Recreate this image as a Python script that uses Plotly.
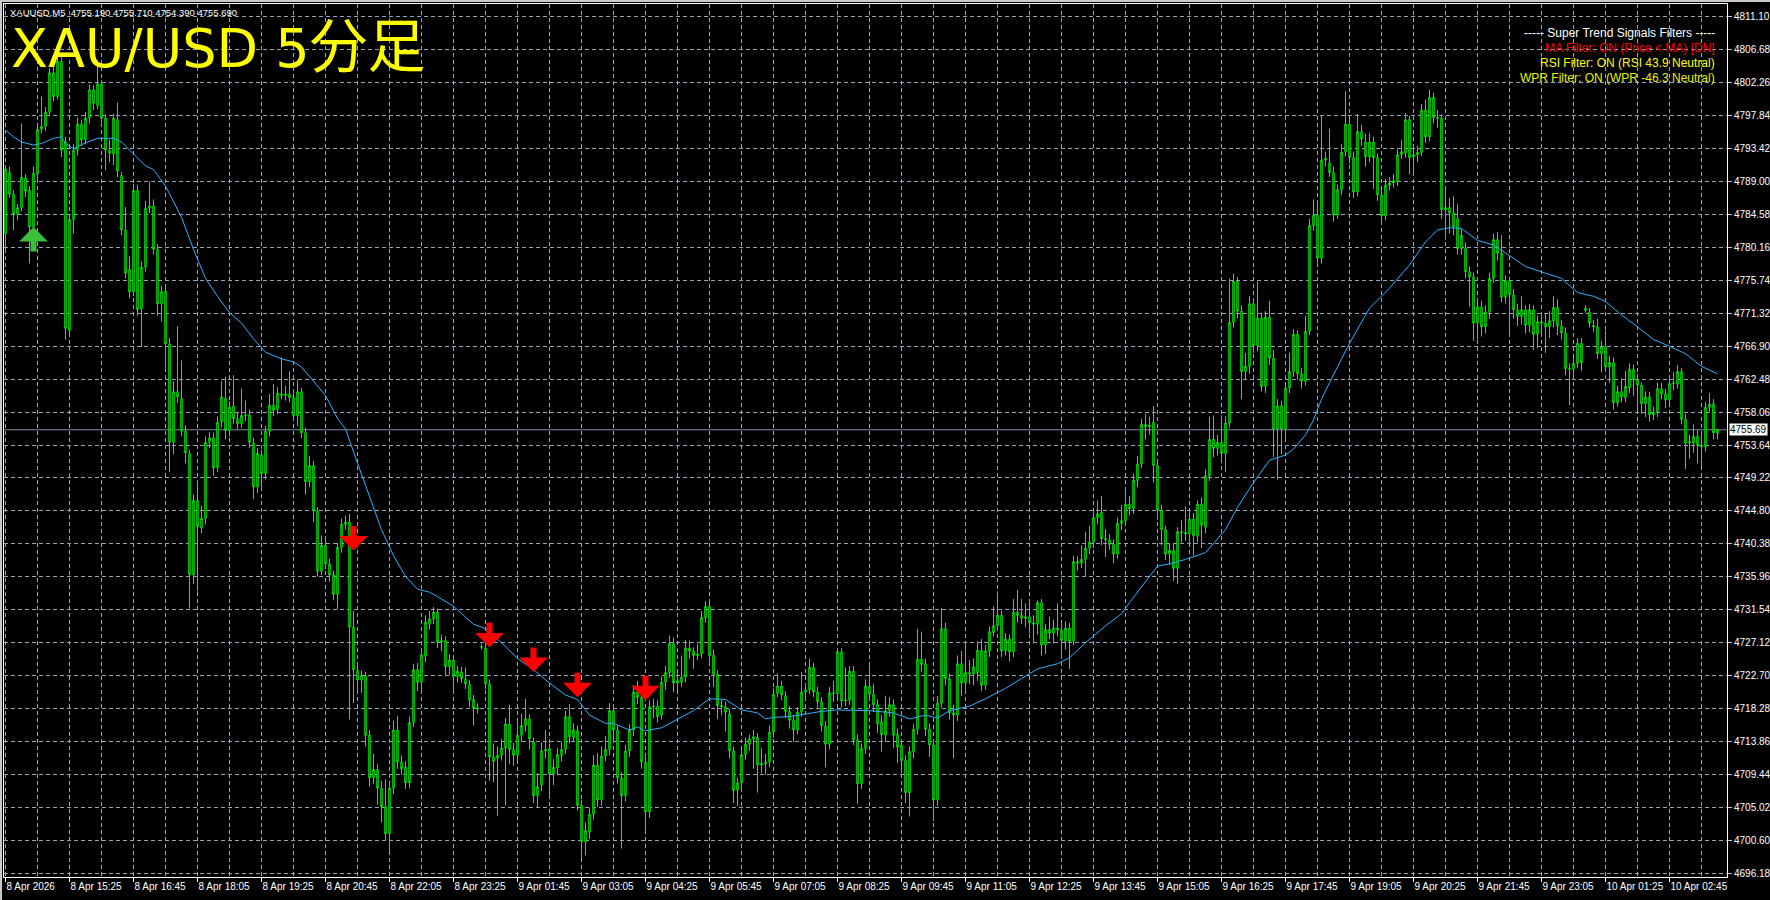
import plotly.graph_objects as go

# ---------------- data ----------------
opens = [
 4782.0,4790.2,4787.3,4784.6,4785.5,4789.5,4787.8,4782.9,4790.0,4796.0,
 4796.4,4798.3,4803.6,4800.4,4805.1,4794.3,4769.0,4783.9,4793.2,4796.7,
 4794.6,4797.5,4801.3,4799.2,4802.1,4797.5,4793.2,4792.7,4797.3,4789.8,
 4782.5,4777.2,4774.2,4787.8,4771.9,4777.5,4785.4,4785.7,4779.9,4772.6,
 4774.3,4767.2,4754.0,4760.8,4759.9,4755.5,4752.5,4736.2,4746.2,4742.5,
 4743.8,4754.0,4754.6,4750.6,4756.7,4759.9,4755.6,4758.9,4757.2,4756.5,
 4757.6,4757.7,4753.9,4748.0,4752.3,4749.8,4755.5,4759.0,4758.4,4760.5,
 4760.3,4760.5,4760.0,4757.6,4760.8,4755.3,4748.7,4750.9,4744.8,4736.7,
 4740.2,4737.7,4736.2,4733.6,4739.9,4743.0,4743.3,4729.2,4723.4,4722.1,
 4722.7,4714.7,4709.0,4710.1,4707.6,4705.1,4701.5,4707.6,4715.4,4711.1,
 4710.4,4708.3,4716.4,4723.5,4721.8,4725.3,4729.6,4730.3,4731.2,4727.2,
 4727.4,4723.9,4724.8,4722.6,4723.2,4722.2,4721.5,4719.5,4718.4,4726.5,
 4726.4,4721.6,4711.8,4711.6,4712.0,4713.0,4716.2,4712.8,4712.0,4714.7,
 4716.0,4716.9,4713.8,4706.6,4708.0,4712.6,4712.9,4709.5,4710.3,4712.0,
 4712.8,4717.2,4714.4,4715.3,4705.3,4700.4,4701.7,4704.1,4710.7,4706.0,
 4711.9,4712.8,4718.0,4715.4,4709.0,4706.6,4712.6,4715.4,4720.5,4719.8,
 4711.1,4704.4,4718.5,4718.6,4717.4,4721.8,4723.1,4727.0,4721.7,4721.8,
 4722.5,4726.4,4726.0,4725.4,4725.6,4730.5,4732.0,4725.4,4722.9,4718.7,
 4718.5,4717.6,4712.6,4707.3,4708.3,4712.1,4713.5,4714.2,4714.4,4710.7,
 4710.9,4711.1,4715.1,4720.3,4721.3,4720.0,4717.9,4716.7,4715.4,4717.8,
 4720.5,4720.8,4723.8,4720.5,4719.2,4715.9,4713.5,4720.4,4720.3,4725.9,
 4719.3,4719.4,4723.3,4714.1,4708.2,4712.9,4721.3,4720.2,4718.8,4716.5,
 4714.7,4718.0,4718.8,4714.8,4713.4,4711.3,4707.0,4712.5,4715.5,4724.9,
 4724.3,4715.5,4713.4,4706.0,4719.0,4729.0,4722.3,4717.7,4717.4,4724.3,
 4721.7,4723.1,4722.9,4723.1,4726.1,4721.4,4726.0,4728.5,4729.4,4730.8,
 4726.0,4727.6,4725.9,4731.2,4730.8,4730.4,4730.6,4729.8,4729.6,4732.5,
 4726.8,4728.9,4728.4,4729.1,4728.8,4727.3,4729.1,4727.3,4738.0,4737.8,
 4738.3,4739.8,4740.6,4743.9,4744.6,4741.1,4740.9,4740.3,4739.0,4743.1,
 4743.5,4745.7,4745.1,4748.9,4751.1,4756.4,4756.1,4756.7,4750.9,4744.9,
 4742.3,4739.0,4739.5,4737.1,4742.0,4741.9,4741.7,4743.7,4741.4,4745.7,
 4742.6,4749.5,4754.4,4753.2,4754.0,4752.5,4756.6,4770.1,4775.6,4771.6,
 4763.5,4764.2,4772.6,4767.0,4770.7,4761.5,4770.8,4765.3,4755.8,4758.9,
 4755.8,4761.3,4763.5,4768.5,4763.2,4762.2,4768.9,4783.1,4784.5,4778.7,
 4791.9,4791.5,4790.2,4784.5,4787.9,4793.0,4796.7,4792.2,4787.6,4795.7,
 4794.3,4792.3,4794.3,4792.2,4787.2,4784.4,4788.5,4788.8,4789.0,4792.6,
 4792.8,4797.3,4792.3,4792.6,4792.9,4798.6,4795.0,4800.3,4797.6,4797.5,
 4785.2,4785.5,4784.8,4784.0,4780.0,4780.0,4776.9,4776.2,4770.0,4772.2,
 4769.5,4771.5,4776.0,4781.2,4779.4,4773.5,4775.7,4773.8,4771.8,4770.9,
 4771.8,4769.7,4771.8,4768.5,4770.2,4770.0,4769.5,4770.3,4772.1,4769.6,
 4768.7,4763.9,4763.8,4764.6,4767.3,4771.7,4771.5,4769.7,4769.5,4765.9,
 4766.8,4764.1,4764.7,4759.3,4760.8,4760.0,4761.3,4763.8,4762.4,4761.7,
 4759.2,4760.1,4757.7,4758.0,4761.2,4760.5,4759.7,4761.9,4761.8,4763.5,
 4757.1,4753.9,4753.9,4754.8,4753.6,4753.4,4758.7,4759.2,4755.19]

highs = [
 4791.2,4791.0,4787.8,4786.0,4796.8,4790.0,4788.4,4791.0,4796.5,4800.4,
 4799.0,4804.2,4804.4,4806.0,4805.8,4795.0,4784.6,4794.0,4797.6,4797.3,
 4798.3,4802.0,4801.9,4805.3,4802.6,4798.0,4794.6,4798.1,4799.6,4790.3,
 4785.6,4779.0,4788.7,4788.6,4778.3,4786.4,4789.0,4786.6,4780.6,4775.0,
 4774.8,4768.0,4762.2,4769.6,4765.0,4756.3,4753.0,4747.0,4748.6,4745.5,
 4754.8,4755.4,4755.3,4757.5,4762.2,4762.8,4759.5,4763.0,4758.0,4761.2,
 4759.6,4758.4,4754.6,4753.2,4753.0,4756.2,4760.5,4761.8,4761.4,4765.4,
 4761.6,4763.5,4761.0,4762.4,4761.3,4756.0,4752.2,4751.5,4745.3,4741.5,
 4740.9,4738.4,4736.8,4740.5,4743.8,4744.2,4744.4,4731.4,4724.5,4723.4,
 4723.2,4715.4,4712.2,4710.8,4708.6,4708.8,4708.3,4716.6,4717.3,4712.0,
 4711.2,4717.2,4724.3,4724.4,4726.3,4730.8,4731.4,4731.9,4731.7,4728.2,
 4728.0,4725.6,4725.4,4724.0,4723.9,4723.8,4722.1,4720.1,4719.0,4727.0,
 4727.0,4722.2,4713.6,4713.2,4714.2,4717.0,4718.8,4713.7,4716.5,4717.6,
 4719.6,4717.5,4714.4,4709.6,4713.8,4715.4,4713.6,4711.5,4713.0,4713.8,
 4718.0,4718.9,4716.3,4716.0,4706.0,4703.0,4705.0,4712.0,4712.3,4713.2,
 4714.6,4719.0,4718.8,4716.0,4709.8,4713.4,4716.2,4721.4,4722.0,4720.3,
 4712.0,4719.4,4719.6,4719.4,4722.6,4724.0,4728.1,4727.8,4723.0,4725.4,
 4727.5,4727.4,4726.5,4727.0,4731.4,4732.7,4732.6,4726.2,4723.4,4719.4,
 4719.2,4718.2,4713.2,4709.0,4712.8,4714.4,4714.8,4715.4,4715.0,4713.0,
 4712.2,4716.0,4721.0,4723.0,4722.0,4720.6,4718.6,4717.4,4718.5,4723.2,
 4721.6,4725.0,4724.4,4721.2,4719.8,4716.6,4721.2,4722.0,4726.3,4726.4,
 4723.8,4724.0,4724.0,4714.8,4713.6,4722.2,4724.5,4721.6,4719.5,4717.4,
 4720.0,4719.8,4719.5,4715.6,4714.2,4712.0,4713.2,4716.2,4729.0,4728.6,
 4725.0,4716.3,4714.0,4720.0,4731.8,4729.8,4723.0,4718.8,4725.4,4726.0,
 4727.0,4724.8,4725.0,4727.3,4727.6,4726.8,4729.3,4732.0,4734.0,4731.4,
 4728.4,4728.2,4733.0,4734.2,4733.0,4732.4,4733.0,4730.8,4732.8,4733.0,
 4729.6,4730.6,4730.2,4732.4,4729.6,4730.0,4729.8,4738.8,4738.7,4740.2,
 4742.0,4742.8,4744.8,4746.2,4746.8,4742.4,4741.7,4741.0,4743.9,4745.6,
 4747.5,4746.8,4749.8,4752.2,4757.2,4757.8,4757.4,4758.9,4751.5,4745.6,
 4742.8,4740.5,4740.4,4742.6,4743.6,4745.4,4744.8,4744.5,4746.2,4746.6,
 4750.4,4757.4,4757.6,4755.0,4757.6,4757.5,4776.0,4776.6,4776.2,4772.4,
 4766.0,4773.6,4773.0,4775.6,4771.4,4771.6,4773.0,4766.4,4759.8,4759.6,
 4762.0,4766.0,4769.2,4769.0,4764.0,4771.0,4784.0,4786.6,4786.1,4797.9,
 4793.0,4796.1,4791.0,4788.6,4794.0,4801.1,4797.3,4793.0,4798.1,4796.6,
 4795.4,4795.5,4795.0,4792.8,4788.0,4789.4,4789.6,4790.0,4793.3,4794.6,
 4798.2,4797.8,4793.4,4793.8,4799.4,4800.0,4801.3,4800.9,4798.6,4798.0,
 4788.2,4786.8,4787.0,4786.0,4782.6,4780.8,4777.6,4776.8,4773.4,4773.0,
 4772.4,4776.8,4782.0,4782.2,4781.8,4776.4,4776.2,4774.6,4772.6,4773.6,
 4772.4,4772.6,4772.4,4771.0,4771.4,4771.2,4771.6,4773.6,4773.2,4770.4,
 4769.4,4764.6,4765.6,4768.0,4768.0,4772.4,4772.0,4770.4,4770.6,4767.6,
 4769.0,4765.6,4765.4,4761.6,4762.6,4763.6,4764.6,4764.4,4763.2,4762.0,
 4760.8,4760.8,4758.8,4762.0,4762.0,4761.2,4763.0,4763.4,4764.4,4764.0,
 4757.8,4755.0,4756.4,4755.6,4755.2,4759.4,4760.6,4759.8,4755.71]

lows = [
 4779.6,4786.8,4782.5,4783.8,4785.0,4786.9,4778.0,4782.0,4789.2,4795.5,
 4795.8,4797.8,4799.8,4800.0,4792.3,4767.8,4768.4,4782.0,4792.5,4793.8,
 4794.0,4796.8,4798.6,4798.7,4796.9,4790.5,4791.6,4791.2,4789.6,4781.8,
 4776.0,4773.4,4773.6,4771.0,4766.8,4776.9,4784.8,4779.2,4771.0,4770.2,
 4763.5,4750.0,4752.4,4759.3,4754.8,4751.2,4731.7,4735.0,4734.0,4741.8,
 4743.0,4753.2,4749.5,4750.0,4756.0,4754.4,4754.8,4756.5,4755.8,4755.9,
 4756.9,4753.2,4746.4,4747.2,4747.6,4749.0,4754.8,4757.5,4757.8,4759.8,
 4759.6,4759.4,4756.9,4756.2,4754.6,4747.0,4748.0,4743.3,4736.0,4736.2,
 4737.0,4735.3,4732.8,4731.6,4739.2,4742.3,4716.8,4719.0,4720.8,4720.4,
 4713.2,4707.8,4708.2,4705.4,4703.0,4700.6,4699.1,4706.8,4710.2,4709.4,
 4707.5,4707.6,4715.8,4720.6,4720.8,4724.5,4728.9,4729.6,4726.4,4726.0,
 4722.6,4722.8,4720.4,4721.8,4721.7,4720.9,4718.5,4716.0,4717.6,4726.2,
 4720.9,4708.6,4708.4,4703.9,4711.3,4705.3,4710.8,4710.6,4711.4,4713.8,
 4715.2,4712.8,4705.6,4705.0,4707.2,4711.6,4706.2,4708.0,4709.4,4711.2,
 4712.2,4713.6,4713.8,4704.6,4698.1,4698.6,4700.8,4703.4,4705.1,4705.2,
 4711.2,4712.0,4713.8,4708.2,4699.5,4705.8,4711.8,4714.6,4718.9,4710.2,
 4702.0,4703.6,4717.0,4716.4,4716.8,4720.8,4722.4,4720.5,4720.8,4721.2,
 4721.8,4725.0,4723.6,4724.8,4725.0,4729.8,4724.4,4721.2,4716.9,4717.4,
 4715.2,4711.6,4705.6,4705.2,4707.5,4711.4,4712.6,4710.2,4707.0,4709.6,
 4709.4,4710.4,4714.4,4719.8,4719.4,4717.0,4715.6,4713.8,4714.8,4717.2,
 4719.6,4720.2,4719.8,4718.4,4715.2,4710.4,4712.8,4719.2,4719.6,4718.4,
 4718.6,4718.8,4713.4,4705.5,4707.5,4712.2,4719.4,4717.8,4715.0,4712.5,
 4713.8,4717.2,4713.0,4711.0,4709.6,4705.6,4703.8,4711.6,4714.8,4723.2,
 4714.6,4711.8,4703.2,4705.2,4718.4,4721.4,4716.8,4711.6,4716.6,4720.0,
 4720.5,4721.6,4721.4,4722.0,4720.6,4720.8,4725.2,4728.0,4728.8,4725.2,
 4725.4,4724.6,4725.2,4729.8,4729.6,4729.2,4728.4,4727.0,4728.2,4725.4,
 4725.6,4727.6,4727.0,4728.0,4725.0,4726.2,4723.6,4726.8,4736.8,4737.1,
 4736.0,4739.0,4739.8,4743.0,4740.2,4738.6,4739.6,4737.8,4738.4,4742.2,
 4742.8,4744.2,4744.4,4748.0,4750.6,4754.4,4755.0,4748.6,4743.6,4740.2,
 4738.2,4737.6,4735.4,4735.0,4740.6,4740.8,4740.4,4738.8,4740.6,4739.8,
 4741.8,4748.8,4752.0,4752.2,4751.2,4750.0,4756.0,4769.4,4770.6,4759.8,
 4762.4,4763.2,4766.0,4766.2,4760.8,4760.6,4764.4,4752.0,4749.0,4752.4,
 4754.6,4760.6,4762.8,4762.4,4761.2,4761.6,4768.4,4782.4,4777.6,4778.0,
 4791.0,4789.6,4783.6,4784.0,4787.2,4792.4,4791.4,4786.8,4787.0,4793.8,
 4791.0,4791.6,4788.0,4786.4,4783.6,4783.8,4787.8,4788.2,4788.4,4792.0,
 4792.2,4790.0,4789.8,4791.6,4792.4,4794.2,4794.4,4796.8,4796.2,4784.0,
 4781.2,4782.0,4781.8,4779.2,4779.2,4776.0,4772.2,4767.6,4767.8,4768.2,
 4768.6,4770.6,4775.4,4778.4,4772.8,4772.6,4768.6,4770.6,4769.6,4769.8,
 4768.6,4768.8,4766.4,4766.6,4768.4,4766.0,4768.0,4769.4,4768.4,4767.8,
 4763.0,4759.0,4763.0,4764.0,4763.6,4771.4,4769.4,4768.8,4765.2,4763.4,
 4763.4,4762.0,4758.4,4758.8,4759.4,4759.4,4760.6,4760.2,4758.2,4757.8,
 4757.4,4756.8,4757.0,4757.4,4759.8,4758.6,4759.2,4761.0,4761.2,4756.4,
 4750.4,4751.8,4752.6,4751.2,4750.6,4752.8,4758.0,4754.4,4754.39]

closes = [
 4790.7,4787.3,4784.6,4785.5,4789.6,4787.7,4782.9,4790.1,4796.0,4796.4,
 4798.3,4803.6,4800.4,4805.1,4793.2,4769.3,4783.9,4793.2,4796.7,4794.6,
 4797.5,4801.3,4799.5,4802.1,4797.5,4793.2,4792.8,4797.5,4790.4,4782.5,
 4776.7,4774.2,4787.8,4771.8,4777.5,4785.4,4785.7,4779.9,4772.6,4774.2,
 4767.2,4754.0,4760.8,4760.1,4755.5,4752.6,4736.2,4746.2,4742.7,4743.8,
 4754.0,4754.6,4750.6,4756.7,4760.1,4755.6,4758.7,4757.2,4756.5,4757.6,
 4757.7,4754.0,4748.0,4752.5,4749.8,4755.5,4759.0,4758.3,4760.6,4760.3,
 4760.5,4760.0,4757.6,4760.8,4755.3,4748.7,4750.9,4744.8,4736.7,4740.2,
 4737.7,4736.2,4733.6,4739.9,4743.0,4743.3,4729.2,4723.5,4722.1,4722.7,
 4714.7,4709.0,4710.1,4707.6,4705.1,4701.5,4707.6,4715.4,4711.1,4710.2,
 4708.3,4716.4,4723.5,4721.8,4725.5,4729.9,4730.3,4731.2,4727.2,4727.4,
 4723.9,4724.8,4722.6,4723.3,4722.3,4721.6,4719.4,4718.3,4718.2,4726.6,
 4721.6,4711.8,4711.2,4712.0,4713.0,4716.2,4712.8,4712.0,4714.7,4716.0,
 4716.9,4714.2,4706.6,4707.8,4712.6,4712.8,4709.5,4710.4,4712.1,4712.8,
 4717.2,4714.5,4715.4,4705.3,4700.4,4701.9,4704.1,4710.7,4706.0,4711.9,
 4712.8,4718.0,4715.4,4709.0,4706.6,4712.6,4715.4,4720.5,4719.8,4711.1,
 4704.4,4718.5,4718.6,4717.2,4721.8,4723.1,4727.0,4721.7,4722.0,4722.5,
 4726.4,4726.0,4725.4,4725.6,4730.5,4732.0,4725.4,4722.9,4718.7,4718.5,
 4717.8,4712.6,4707.3,4708.3,4712.1,4713.5,4714.2,4714.5,4710.7,4710.9,
 4711.1,4715.1,4720.2,4721.3,4720.1,4717.9,4716.7,4715.4,4717.8,4720.5,
 4720.8,4723.8,4720.5,4719.2,4716.0,4713.5,4720.4,4720.3,4725.9,4719.3,
 4719.4,4723.3,4714.1,4708.2,4712.9,4721.3,4720.2,4718.8,4716.2,4714.8,
 4718.0,4718.8,4714.7,4713.1,4711.3,4707.0,4712.5,4715.5,4724.9,4724.2,
 4715.5,4713.4,4706.0,4719.0,4729.0,4722.3,4717.7,4717.4,4724.3,4721.7,
 4723.1,4722.9,4723.9,4726.1,4721.4,4726.0,4728.6,4729.4,4730.8,4726.0,
 4727.6,4725.9,4731.2,4730.8,4730.4,4730.6,4729.8,4729.6,4732.5,4726.8,
 4728.9,4728.4,4729.1,4728.8,4727.4,4729.1,4727.3,4738.0,4737.8,4738.3,
 4739.8,4740.6,4743.9,4744.4,4741.1,4740.9,4740.3,4739.0,4743.1,4743.5,
 4745.7,4745.1,4748.9,4751.1,4756.4,4756.1,4756.3,4750.9,4744.9,4742.3,
 4739.0,4739.5,4737.1,4742.0,4741.9,4741.7,4743.7,4741.5,4745.7,4742.9,
 4749.5,4754.4,4753.2,4754.0,4752.5,4756.6,4770.1,4775.6,4771.6,4763.5,
 4764.2,4772.6,4767.0,4770.7,4761.5,4770.8,4765.3,4755.8,4758.9,4755.8,
 4761.3,4763.5,4768.5,4763.2,4762.2,4768.9,4783.1,4784.5,4778.7,4791.9,
 4792.1,4790.2,4784.5,4787.9,4792.9,4796.7,4792.2,4787.6,4795.7,4794.7,
 4792.3,4794.3,4792.2,4787.2,4784.4,4788.5,4788.8,4789.1,4792.6,4793.0,
 4797.3,4792.2,4792.6,4792.9,4798.6,4795.0,4800.3,4797.6,4797.5,4785.2,
 4785.5,4784.8,4782.9,4780.0,4781.8,4776.9,4776.2,4770.0,4772.2,4769.5,
 4771.5,4776.0,4781.2,4779.4,4773.5,4775.7,4773.8,4771.8,4770.9,4771.8,
 4769.7,4771.8,4768.5,4770.2,4770.0,4769.5,4770.3,4772.1,4769.6,4768.7,
 4763.9,4763.8,4764.6,4767.3,4764.7,4772.0,4770.0,4769.5,4765.9,4766.8,
 4764.1,4764.7,4759.3,4760.8,4760.1,4761.5,4763.8,4762.4,4761.7,4759.2,
 4760.1,4757.7,4758.0,4761.2,4760.5,4759.7,4761.9,4762.0,4763.5,4757.1,
 4753.9,4754.1,4754.8,4753.6,4753.4,4758.7,4759.1,4755.3,4755.69]

time_labels = ["8 Apr 2026", "8 Apr 15:25", "8 Apr 16:45", "8 Apr 18:05", "8 Apr 19:25",
               "8 Apr 20:45", "8 Apr 22:05", "8 Apr 23:25", "9 Apr 01:45", "9 Apr 03:05",
               "9 Apr 04:25", "9 Apr 05:45", "9 Apr 07:05", "9 Apr 08:25", "9 Apr 09:45",
               "9 Apr 11:05", "9 Apr 12:25", "9 Apr 13:45", "9 Apr 15:05", "9 Apr 16:25",
               "9 Apr 17:45", "9 Apr 19:05", "9 Apr 20:25", "9 Apr 21:45", "9 Apr 23:05",
               "10 Apr 01:25", "10 Apr 02:45"]
bars_per_label = 16
bars_per_grid = 8

price_ticks = [4811.10, 4806.68, 4802.26, 4797.84, 4793.42, 4789.00, 4784.58, 4780.16,
               4775.74, 4771.32, 4766.90, 4762.48, 4758.06, 4753.64, 4749.22, 4744.80,
               4740.38, 4735.96, 4731.54, 4727.12, 4722.70, 4718.28, 4713.86, 4709.44,
               4705.02, 4700.60, 4696.18]

ma_bars = [0, 2, 4, 7, 9, 12, 14, 15, 17, 20, 23, 27, 29, 32, 35, 37, 40, 44, 47, 50,
           53, 56, 59, 62, 65, 69, 72, 74, 77, 80, 83, 85, 88, 91, 94, 97, 100, 103, 106, 108,
           112, 117, 120, 124, 128, 132, 136, 140, 143, 146, 150, 152, 156, 158, 160, 164, 168,
           172, 176, 180, 184, 188, 190, 192, 196, 200, 204, 208, 212, 216, 222, 226, 230, 233,
           236, 241, 245, 250, 254, 258, 263, 266, 270, 275, 279, 281, 285, 288, 291, 295, 300,
           303, 305, 308, 312, 316, 320, 322, 325, 327, 329, 331, 336, 341, 346, 351, 355, 358,
           361, 364, 368, 372, 376, 380, 385, 389, 393, 397, 400, 404, 408, 412, 416, 420, 424, 428]
ma_values = [4795.9, 4795.0, 4794.3, 4793.9, 4794.1, 4794.8, 4795.0, 4794.1, 4793.4, 4794.2,
             4794.8, 4794.8, 4794.3, 4792.7, 4791.1, 4790.6, 4788.4, 4784.2, 4779.9, 4776.0,
             4773.6, 4771.4, 4770.0, 4767.9, 4766.1, 4765.2, 4764.8, 4764.1, 4762.2, 4760.3,
             4757.2, 4755.8, 4751.2, 4746.6, 4742.3, 4738.8, 4736.0, 4734.3, 4733.9, 4733.3,
             4732.0, 4729.6, 4729.0, 4727.1, 4725.0, 4723.5, 4721.7, 4720.1, 4719.5, 4717.4,
             4716.3, 4716.3, 4715.4, 4715.8, 4715.3, 4715.7, 4716.8, 4718.0, 4719.6, 4719.5,
             4718.1, 4717.7, 4716.9, 4717.1, 4717.2, 4717.6, 4717.9, 4718.1, 4718.0, 4718.0,
             4717.7, 4716.9, 4717.4, 4717.0, 4718.0, 4718.6, 4719.6, 4721.0, 4722.3, 4723.6,
             4724.3, 4725.1, 4727.1, 4729.4, 4731.0, 4732.5, 4735.3, 4737.4, 4737.7, 4738.3,
             4739.2, 4741.1, 4742.3, 4745.3, 4748.6, 4751.6, 4752.3, 4753.1, 4755.0, 4757.0,
             4759.8, 4762.0, 4767.3, 4772.0, 4774.7, 4777.8, 4780.9, 4782.5, 4782.8, 4782.7,
             4781.1, 4780.5, 4779.1, 4777.6, 4776.7, 4776.0, 4774.1, 4773.6, 4772.9, 4771.1,
             4769.5, 4767.8, 4766.9, 4765.9, 4764.2, 4763.2]

buy_bars = [7]
buy_prices = [4782.9]
sell_bars = [87, 121, 132, 143, 160]
sell_prices = [4739.5, 4726.5, 4723.2, 4719.8, 4719.4]

symbol = "XAUUSD,M5"
title_latin = "XAU/USD 5"
title_cjk = "分足"
filter_lines = [("----- Super Trend Signals Filters -----", "#FFFFFF"),
                ("MA Filter: ON (Price < MA) [DN]", "#FF0000"),
                ("RSI Filter: ON (RSI 43.9 Neutral)", "#FFFF00"),
                ("WPR Filter: ON (WPR -46.3 Neutral)", "#E8F000")]

# ---------------- figure ----------------
W, H = 1770, 900
ML, MR, MT, MB = 4, 43, 4, 23
PW, PH = W - ML - MR, H - MT - MB
PX_PER_BAR = 4.0


def px_x(px):
    return (px - ML) / PW


def px_y(py):
    return 1 - (py - MT) / PH


n = len(closes)
x = list(range(n))
GREEN = "#00FF00"
GRID = "#95A3B8"
FONT = "Liberation Sans, Arial, sans-serif"

fig = go.Figure()
fig.add_trace(go.Candlestick(
    x=x, open=opens, high=highs, low=lows, close=closes,
    increasing=dict(line=dict(color=GREEN, width=1), fillcolor="#000000"),
    decreasing=dict(line=dict(color=GREEN, width=1), fillcolor="#000000"),
    whiskerwidth=0, hoverinfo="skip", showlegend=False))

fig.add_trace(go.Scatter(x=ma_bars, y=ma_values, mode="lines",
                         line=dict(color="#30B0FF", width=1),
                         hoverinfo="skip", showlegend=False))

annotations = []
for b, p in zip(buy_bars, buy_prices):
    annotations.append(dict(x=b, y=p, xref="x", yref="y", text="", showarrow=True,
                            ax=0, ay=26, arrowhead=1, arrowsize=0.8, arrowwidth=6,
                            arrowcolor="#3CC03C"))
for b, p in zip(sell_bars, sell_prices):
    annotations.append(dict(x=b, y=p, xref="x", yref="y", text="", showarrow=True,
                            ax=0, ay=-26, arrowhead=1, arrowsize=0.8, arrowwidth=6,
                            arrowcolor="#FF0000"))

annotations.append(dict(
    x=px_x(8), y=px_y(13), xref="paper", yref="paper", xanchor="left", yanchor="middle",
    text=f"{symbol}  {opens[-1]:.3f} {highs[-1]:.3f} {lows[-1]:.3f} {closes[-1]:.3f}",
    showarrow=False, font=dict(family=FONT, size=9.5, color="#FFFFFF")))
annotations.append(dict(
    x=px_x(9), y=px_y(42), xref="paper", yref="paper", xanchor="left", yanchor="middle",
    text=(f"{title_latin}<span style='font-family:Noto Sans CJK JP;font-size:58px'>"
          f"{title_cjk}</span>"),
    showarrow=False,
    font=dict(family="DejaVu Sans, sans-serif", size=54, color="#FFFF00")))
for k, (txt, col) in enumerate(filter_lines):
    annotations.append(dict(
        x=px_x(1717), y=px_y(33 + 15 * k), xref="paper", yref="paper",
        xanchor="right", yanchor="middle", text=txt, showarrow=False,
        font=dict(family=FONT, size=12, color=col)))
bid = closes[-1]
annotations.append(dict(
    x=px_x(1729), y=bid, xref="paper", yref="y", xanchor="left", yanchor="middle",
    text=f"{bid:.2f}", showarrow=False, bgcolor="#FFFFFF", borderpad=0,
    font=dict(family=FONT, size=10, color="#000000")))

shapes = [
    dict(type="line", xref="paper", yref="y", x0=0, x1=1, y0=bid, y1=bid,
         line=dict(color="#7F8FA6", width=1), layer="below"),
    dict(type="rect", xref="paper", yref="paper", x0=px_x(0), x1=px_x(W),
         y0=px_y(2), y1=px_y(0), fillcolor="#C8C8C8", line=dict(width=0)),
    dict(type="rect", xref="paper", yref="paper", x0=px_x(0), x1=px_x(2),
         y0=px_y(H), y1=px_y(0), fillcolor="#C8C8C8", line=dict(width=0)),
]

label_vals = [i * bars_per_label for i in range(len(time_labels))]
grid_vals = list(range(0, n + 2, bars_per_grid))

x_lo = -(5.5 - ML) / PX_PER_BAR
x_hi = x_lo + PW / PX_PER_BAR

fig.update_layout(
    width=W, height=H, margin=dict(l=ML, r=MR, t=MT, b=MB, autoexpand=False),
    paper_bgcolor="#000000", plot_bgcolor="#000000",
    annotations=annotations, shapes=shapes, showlegend=False,
    boxgap=0.5,
    xaxis=dict(range=[x_lo, x_hi], tickmode="array", tickvals=label_vals, ticktext=time_labels,
               tickangle=0, automargin=False,
               ticks="outside", ticklen=4, tickcolor="#FFFFFF",
               ticklabelposition="outside right",
               tickfont=dict(family=FONT, size=10, color="#FFFFFF"),
               showgrid=True, gridcolor=GRID, griddash="4px,3px", gridwidth=1,
               minor=dict(tickmode="array", tickvals=grid_vals, showgrid=True,
                          gridcolor=GRID, griddash="4px,3px", gridwidth=1, ticks=""),
               showline=True, linecolor="#FFFFFF", linewidth=1, mirror=True,
               zeroline=False, rangeslider=dict(visible=False), fixedrange=True),
    yaxis=dict(range=[4695.68, 4812.82], side="right", tickmode="array", automargin=False,
               tickvals=price_ticks, ticktext=[f"{v:.2f}" for v in price_ticks],
               ticks="outside", ticklen=4, tickcolor="#C8C8C8",
               tickfont=dict(family=FONT, size=10, color="#FFFFFF"),
               showgrid=True, gridcolor=GRID, griddash="4px,3px", gridwidth=1,
               showline=True, linecolor="#FFFFFF", linewidth=1, mirror=True,
               zeroline=False, fixedrange=True),
)

fig.write_html("out.html",
               config={"displayModeBar": False},
               post_script="document.body.style.margin='0';document.body.style.overflow='hidden';")
